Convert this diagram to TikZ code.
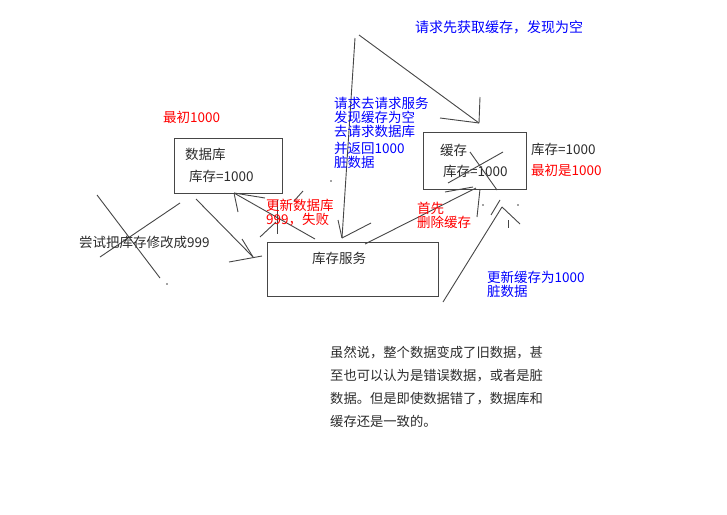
\documentclass[tikz,border=0pt]{standalone}
\usepackage{fontspec}
\setmainfont{Noto Sans CJK SC}
\usepackage{tikz}
\usetikzlibrary{positioning}
\definecolor{csblue}{RGB}{0,0,255}
\definecolor{csred}{RGB}{255,0,0}
\definecolor{csink}{RGB}{45,45,45}
\definecolor{csline}{RGB}{70,70,70}
\tikzset{
 cs box/.style={draw=csline,line width=1pt,inner sep=0pt},
 cs stroke/.style={csline,line width=0.9pt},
 cs text/.style={anchor=west,inner sep=0pt,text=csink,align=left,
                 font=\fontsize{13.5}{14}\selectfont},
 cs blue/.style={cs text,text=csblue},
 cs red/.style={cs text,text=csred},
 cs para/.style={cs text,font=\fontsize{13.3}{23}\selectfont}
}
\begin{document}
\begin{tikzpicture}[x=1pt,y=-1pt]
 \useasboundingbox[fill=white] (0,0) rectangle (727,514);

 % The three boxes of the sketch.
 \node[cs box,minimum width=108pt,minimum height=55pt] (db) at (228,165.5) {};
 \node[cs box,minimum width=103pt,minimum height=57pt] (cache) at (474.5,160.5) {};
 \node[cs box,minimum width=171pt,minimum height=54pt] (svc) at (352.5,269) {};

 \node[cs text] (dbname) at (185,154) {数据库};
 \node[cs text] (dbval) at (189,176) {库存=1000};
 \node[cs text] (cname) at (440,150) {缓存};
 \node[cs text] (cval) at (443,171) {库存=1000};
 \node[cs text] (svcname) at (312,258) {库存服务};

 % Hand-drawn strokes, end points.
 \coordinate (t0) at (355,38);  \coordinate (t1) at (342,238);
 \coordinate (t2) at (338,220); \coordinate (t3) at (371,223);
 \coordinate (u0) at (359,35);  \coordinate (u1) at (479,123);
 \coordinate (u2) at (440,118); \coordinate (u3) at (480,97);
 \coordinate (d0) at (365,244); \coordinate (d1) at (476,188);
 \coordinate (d2) at (445,192); \coordinate (d3) at (473,187);
 \coordinate (d4) at (480,189); \coordinate (d5) at (477,217);
 \coordinate (x0) at (470,152); \coordinate (x1) at (497,190);
 \coordinate (x2) at (448,183); \coordinate (x3) at (503,152);
 \coordinate (r0) at (443,302); \coordinate (r1) at (502,207);
 \coordinate (r2) at (520,224); \coordinate (r3) at (500,200);
 \coordinate (r4) at (491,215); \coordinate (r5) at (508,220);
 \coordinate (r6) at (508,228);
 \coordinate (f0) at (315,239); \coordinate (f1) at (234,193);
 \coordinate (f2) at (238,212); \coordinate (f3) at (265,198);
 \coordinate (f4) at (260,237); \coordinate (f5) at (276,222);
 \coordinate (f6) at (277,200); \coordinate (f7) at (277,234);
 \coordinate (f8) at (303,191); \coordinate (f9) at (294,201);
 \coordinate (l0) at (196,199); \coordinate (l1) at (253,257);
 \coordinate (l2) at (229,262); \coordinate (l3) at (262,256);
 \coordinate (l4) at (242,239);
 \coordinate (k0) at (97,195);  \coordinate (k1) at (160,278);
 \coordinate (k2) at (100,257); \coordinate (k3) at (180,203);
 \foreach \a/\b in {t0/t1,t2/t1,t1/t3,u0/u1,u2/u1,u3/u1,
                    d0/d1,d2/d3,d4/d5,x0/x1,x2/x3,
                    r0/r1,r1/r2,r3/r4,r5/r6,
                    f0/f1,f1/f2,f1/f3,f4/f5,f6/f7,f8/f9,
                    l0/l1,l2/l3,l4/l1,k0/k1,k2/k3}
   \draw[cs stroke] (\a) -- (\b);
 \foreach \p in {(483,205),(518,205),(167,284),(331,181)}
   \fill[csline] \p circle (0.8);

 % Notes round the boxes.
 \node[cs blue,font=\fontsize{14}{14}\selectfont] (ask) at (415,27) {请求先获取缓存，发现为空};
 \node[cs red] (dbinit) at (163,117) {最初1000};
 \node[cs blue] (miss) at (334,117) {请求去请求服务\\发现缓存为空\\去请求数据库};
 \node[cs blue] (dirty) at (334,155) {并返回1000\\脏数据};
 \node[cs text] (cside) at (531,149) {库存=1000};
 \node[cs red] (cinit) at (531,170) {最初是1000};
 \node[cs red] (fail) at (266,213) {更新数据库\\999，失败};
 \node[cs red] (del) at (417,215) {首先\\删除缓存};
 \node[cs text] (try) at (79,242) {尝试把库存修改成999};
 \node[cs blue] (upd) at (487,284.5) {更新缓存为1000\\脏数据};
 \node[cs para] (sum) at (330,386.5)
   {虽然说，整个数据变成了旧数据，甚\\至也可以认为是错误数据，或者是脏\\数据。但是即使数据错了，数据库和\\缓存还是一致的。};
\end{tikzpicture}
\end{document}
